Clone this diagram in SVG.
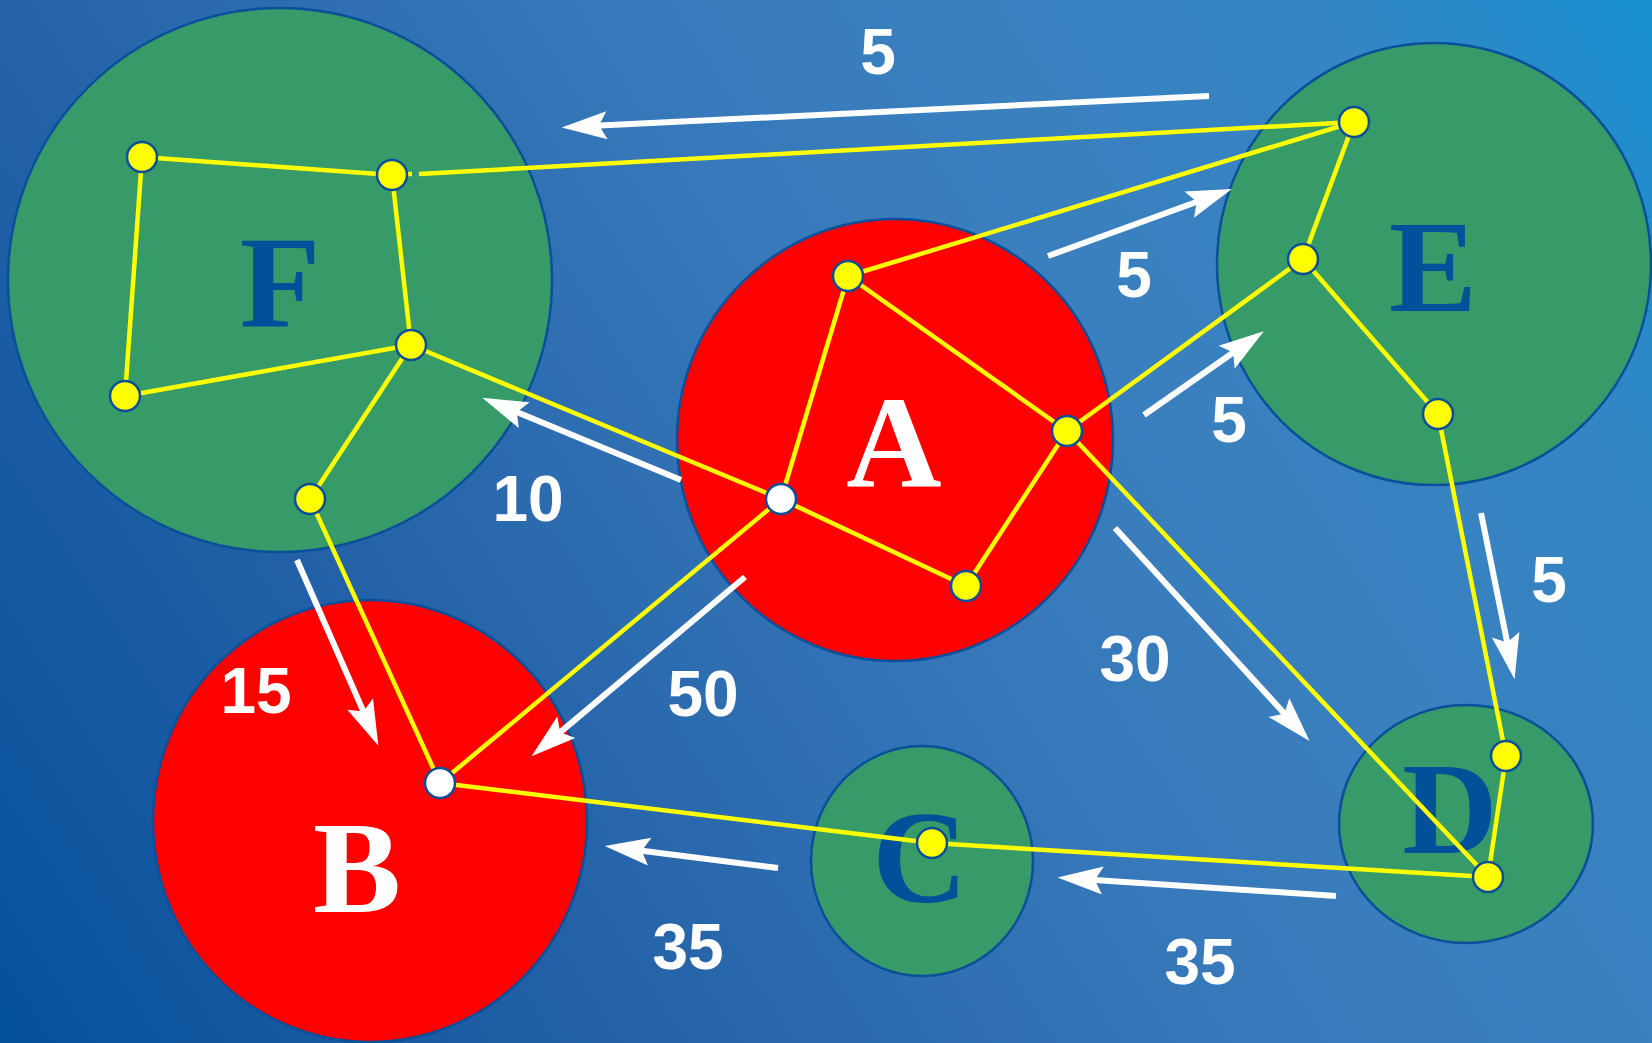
<svg xmlns="http://www.w3.org/2000/svg" width="1652" height="1043" viewBox="0 0 1652 1043">
<defs>
<linearGradient id="bg" gradientUnits="userSpaceOnUse" x1="0" y1="1043" x2="1652" y2="0">
<stop offset="0" stop-color="#05509B"/>
<stop offset="0.28" stop-color="#2462A8"/>
<stop offset="0.55" stop-color="#3779BA"/>
<stop offset="0.7" stop-color="#3A80BF"/>
<stop offset="0.85" stop-color="#3585C4"/>
<stop offset="1" stop-color="#1890D0"/>
</linearGradient>
<marker id="ah" markerUnits="userSpaceOnUse" orient="auto" markerWidth="60" markerHeight="40" viewBox="-15 -15 45 30" refX="0" refY="0" overflow="visible">
<path d="M25,0 L-9,-10.5 L-3,0 L-9,10.5 Z" fill="#FFFFFF"/>
</marker>
<style>
.big{stroke:#0A4F9A;stroke-width:2.5}
.green{fill:#379A69}
.red{fill:#FF0000}
.let{font-family:"Liberation Serif","Times New Roman",serif;font-weight:bold;font-size:132px;text-anchor:middle}
.dk{fill:#00509A}
.wh{fill:#FFFFFF}
.yl{stroke:#FFFF00;stroke-width:4.5;fill:none}
.ar{stroke:#FFFFFF;stroke-width:6;fill:none;marker-end:url(#ah)}
.lab{font-family:"Liberation Sans",Arial,sans-serif;font-weight:bold;font-size:64px;fill:#FFFFFF;text-anchor:middle}
.pt{fill:#FFFF00;stroke:#0C4E99;stroke-width:2.5}
.pw{fill:#FFFFFF;stroke:#0C4E99;stroke-width:2.5}
</style>
</defs>
<rect x="0" y="0" width="1652" height="1043" fill="url(#bg)"/>

<g id="node-F"><circle class="big green" cx="280" cy="280" r="272"/><text class="let dk" x="280" y="327">F</text></g>
<g id="node-A"><ellipse class="big red" cx="895" cy="440" rx="218" ry="221"/><text class="let wh" x="894" y="487">A</text></g>
<g id="node-E"><ellipse class="big green" cx="1434" cy="264" rx="217" ry="221"/><text class="let dk" x="1433" y="311">E</text></g>
<g id="node-B"><ellipse class="big red" cx="370" cy="821" rx="217" ry="221"/><text class="let wh" x="357" y="912">B</text></g>
<g id="node-C"><ellipse class="big green" cx="922" cy="861" rx="111" ry="115"/><text class="let dk" x="920" y="902">C</text></g>
<g id="node-D"><ellipse class="big green" cx="1466" cy="824" rx="127" ry="119"/><text class="let dk" x="1450" y="853">D</text></g>

<g id="connectors">
<g id="arrows">
<line class="ar" x1="1209" y1="96" x2="595" y2="125.8"/>
<line class="ar" x1="1048" y1="256" x2="1200.5" y2="200.5"/>
<line class="ar" x1="1144" y1="415" x2="1236.5" y2="350.3"/>
<line class="ar" x1="681" y1="480" x2="513.1" y2="410.6"/>
<line class="ar" x1="297" y1="560" x2="365" y2="715.1"/>
<line class="ar" x1="745" y1="577" x2="557.1" y2="734.9"/>
<line class="ar" x1="1115" y1="528" x2="1287.1" y2="716.5"/>
<line class="ar" x1="1481" y1="513" x2="1508" y2="646.5"/>
<line class="ar" x1="1336" y1="896" x2="1090.9" y2="879.7"/>
<line class="ar" x1="778" y1="868" x2="637.8" y2="850.2"/>
</g>
<g id="links">
<line class="yl" x1="142" y1="157" x2="392" y2="175"/>
<line class="yl" x1="142" y1="157" x2="125" y2="396"/>
<line class="yl" x1="392" y1="175" x2="411" y2="345"/>
<line class="yl" x1="125" y1="396" x2="411" y2="345"/>
<line class="yl" x1="411" y1="345" x2="310" y2="499"/>
<line class="yl" x1="408" y1="174" x2="412" y2="174"/>
<line class="yl" x1="419" y1="174" x2="1354" y2="122"/>
<line class="yl" x1="411" y1="345" x2="781" y2="499"/>
<line class="yl" x1="310" y1="499" x2="440" y2="783"/>
<line class="yl" x1="848" y1="276" x2="1354" y2="122"/>
<line class="yl" x1="848" y1="276" x2="1067" y2="431"/>
<line class="yl" x1="848" y1="276" x2="781" y2="499"/>
<line class="yl" x1="1067" y1="431" x2="966" y2="586"/>
<line class="yl" x1="1067" y1="431" x2="1303" y2="259"/>
<line class="yl" x1="1067" y1="431" x2="1488" y2="877"/>
<line class="yl" x1="781" y1="499" x2="440" y2="783"/>
<line class="yl" x1="781" y1="499" x2="966" y2="586"/>
<line class="yl" x1="440" y1="783" x2="932" y2="843"/>
<line class="yl" x1="932" y1="843" x2="1488" y2="877"/>
<line class="yl" x1="1354" y1="122" x2="1303" y2="259"/>
<line class="yl" x1="1303" y1="259" x2="1438" y2="414"/>
<line class="yl" x1="1438" y1="414" x2="1506" y2="756"/>
<line class="yl" x1="1506" y1="756" x2="1488" y2="877"/>
</g>
<g id="labels">
<text class="lab" x="878" y="74">5</text>
<text class="lab" x="1134" y="297">5</text>
<text class="lab" x="1229" y="442">5</text>
<text class="lab" x="528" y="521">10</text>
<text class="lab" x="256" y="713">15</text>
<text class="lab" x="703" y="716">50</text>
<text class="lab" x="1135" y="681">30</text>
<text class="lab" x="1549" y="602">5</text>
<text class="lab" x="1200" y="984">35</text>
<text class="lab" x="688" y="969">35</text>
</g>
</g>

<g id="points">
<g id="pt-F1"><circle class="pt" cx="142" cy="157" r="15"/></g>
<g id="pt-F2"><circle class="pt" cx="392" cy="175" r="15"/></g>
<g id="pt-F3"><circle class="pt" cx="411" cy="345" r="15"/></g>
<g id="pt-F4"><circle class="pt" cx="125" cy="396" r="15"/></g>
<g id="pt-F5"><circle class="pt" cx="310" cy="499" r="15"/></g>
<g id="pt-A1"><circle class="pt" cx="848" cy="276" r="15"/></g>
<g id="pt-A2"><circle class="pt" cx="1067" cy="431" r="15"/></g>
<g id="pt-A3"><circle class="pw" cx="781" cy="499" r="15"/></g>
<g id="pt-A4"><circle class="pt" cx="966" cy="586" r="15"/></g>
<g id="pt-E1"><circle class="pt" cx="1354" cy="122" r="15"/></g>
<g id="pt-E2"><circle class="pt" cx="1303" cy="259" r="15"/></g>
<g id="pt-E3"><circle class="pt" cx="1438" cy="414" r="15"/></g>
<g id="pt-B1"><circle class="pw" cx="440" cy="783" r="15"/></g>
<g id="pt-C1"><circle class="pt" cx="932" cy="843" r="15"/></g>
<g id="pt-D1"><circle class="pt" cx="1506" cy="756" r="15"/></g>
<g id="pt-D2"><circle class="pt" cx="1488" cy="877" r="15"/></g>
</g>
</svg>
